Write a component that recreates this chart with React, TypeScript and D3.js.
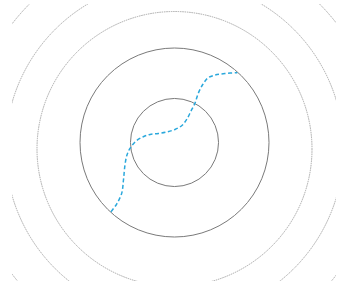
import React from "react";
import * as d3 from "d3";

// Radii in chart units (outer solid circle = 100)
const solidRadii = [46.6, 100];
const dottedRadii = [145.5, 178.8, 217];

// Blue dashed curve, chart units (x right, y up)
const curveX = [-67.2, -61.2, -55.9, -54.0, -52.4, -50.3, -47.1, -40.7, -33.0, -25.9, -17.1, -8.3, 0.5, 7.9, 13.2, 17.5, 21.7, 25.2, 30.2, 35.4, 42.9, 53.4, 66.5];
const curveY = [-73.2, -65.1, -53.8, -39.7, -23.8, -13.2, -6.3, 1.6, 6.1, 8.5, 9.5, 11.1, 13.8, 18.0, 24.9, 33.3, 41.8, 52.1, 61.9, 68.3, 71.4, 73.0, 73.9];

const W = 338;
const H = 286;

export default function App() {
  const cx = 174.5;
  const cy = 142.5;
  const k = 0.945;
  const x = d3.scaleLinear().domain([-100, 100]).range([cx - 100 * k, cx + 100 * k]);
  const y = d3.scaleLinear().domain([-100, 100]).range([cy + 100 * k, cy - 100 * k]);
  const rs = d3.scaleLinear().domain([0, 100]).range([0, 100 * k]);
  const dottedCy = 149;

  const pts: [number, number][] = curveX.map((v, i) => [v, curveY[i]]);
  const line = d3
    .line<[number, number]>()
    .x((d) => x(d[0]))
    .y((d) => y(d[1]))
    .curve(d3.curveCatmullRom.alpha(0.5));

  return (
    <svg width={W} height={H} style={{ position: "absolute", left: 0, top: 0, background: "#fff" }}>
      <defs>
        <clipPath id="clip">
          <rect x={12} y={4} width={324} height={277} />
        </clipPath>
      </defs>
      <g clipPath="url(#clip)">
        {dottedRadii.map((r, i) => (
          <circle
            key={"d" + i}
            cx={cx}
            cy={dottedCy}
            r={rs(r)}
            fill="none"
            stroke="#a8a8a8"
            strokeWidth={1}
            strokeDasharray="1.5,0.8"
          />
        ))}
        {solidRadii.map((r, i) => (
          <circle key={"s" + i} cx={cx} cy={cy} r={rs(r)} fill="none" stroke="#7a7a7a" strokeWidth={1} />
        ))}
        <path d={line(pts) || ""} fill="none" stroke="#2aa8dc" strokeWidth={1.5} strokeDasharray="4,2.5" />
      </g>
    </svg>
  );
}
